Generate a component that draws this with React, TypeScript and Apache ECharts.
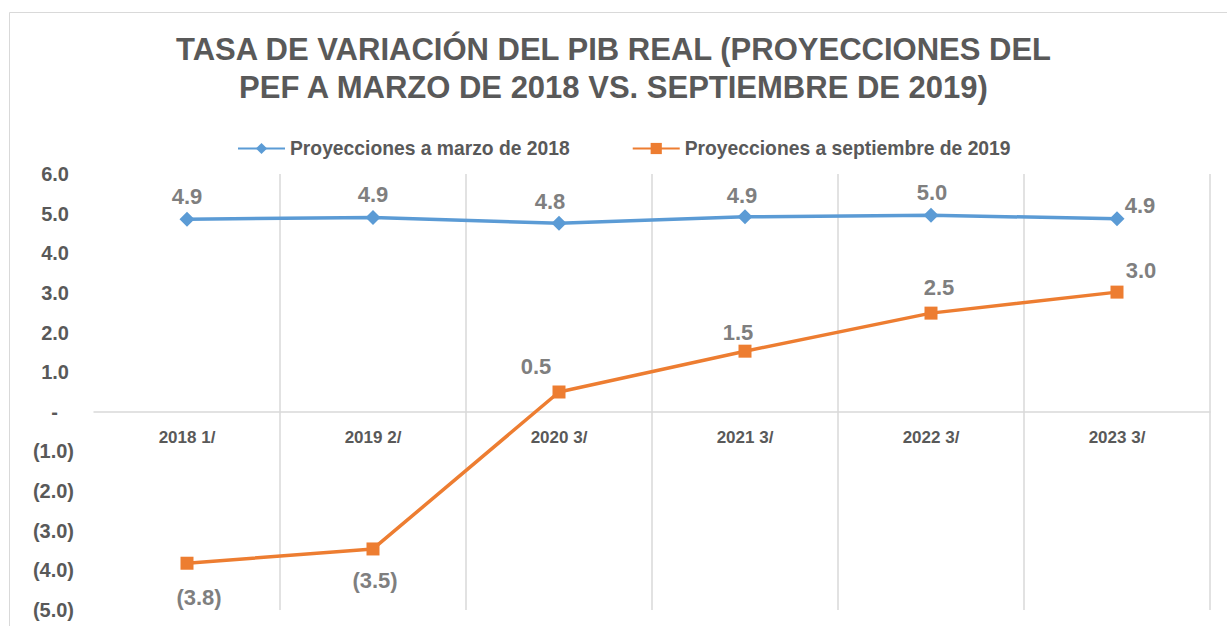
import React, { useEffect, useRef } from "react";
import * as echarts from "echarts";

const categories = ["2018 1/", "2019 2/", "2020 3/", "2021 3/", "2022 3/", "2023 3/"];
const seriesMarzo2018 = [4.86, 4.9, 4.76, 4.92, 4.96, 4.87];
const seriesSept2019 = [-3.82, -3.46, 0.5, 1.53, 2.49, 3.02];
const yTicks = { min: -5, max: 6, interval: 1 };
const titleLines = [
  "TASA DE VARIACIÓN DEL PIB REAL (PROYECCIONES DEL",
  "PEF A MARZO DE 2018 VS. SEPTIEMBRE DE 2019)",
];

const blueLabelOffsets = [[0, -23], [0, -23], [-9, -22], [-3, -21], [1, -23], [23, -13]];
const orangeLabelOffsets = [[12, 34], [2, 32], [-23, -26], [-7, -19], [8, -26], [24, -22]];

const FONT = "Liberation Sans, Arial, sans-serif";
const GRID = { left: 94, right: 17, top: 174, bottom: 16 };
const CHART_H = 626;

const fmt = (v: number) => {
  const s = Math.abs(v).toFixed(1);
  return v < 0 ? `(${s})` : s;
};

export default function App() {
  const ref = useRef<HTMLDivElement>(null);
  useEffect(() => {
    if (!ref.current) return;
    const chart = echarts.init(ref.current, null, { renderer: "svg" });
    const plotH = CHART_H - GRID.top - GRID.bottom;
    // distance from the bottom of the plot to the zero line, through the value scale
    const zeroFromBottom = ((0 - yTicks.min) / (yTicks.max - yTicks.min)) * plotH;
    const labelStyle = {
      show: true,
      position: "inside",
      color: "#7f7f7f",
      fontSize: 22,
      fontWeight: "bold",
      fontFamily: FONT,
      formatter: (p: any) => fmt(p.value),
    };
    const titleStyle = {
      fontSize: 31,
      fontWeight: "bold",
      color: "#595959",
      fontFamily: FONT,
    };
    chart.setOption({
      animation: false,
      backgroundColor: "#ffffff",
      textStyle: { fontFamily: FONT },
      graphic: [
        {
          type: "rect",
          shape: { x: 9.5, y: 12.5, width: 1240, height: 640 },
          style: { fill: "none", stroke: "#d9d9d9", lineWidth: 1 },
          silent: true,
        },
      ],
      title: [
        { text: titleLines[0], left: "center", top: 34, padding: 0, textStyle: titleStyle },
        { text: titleLines[1], left: "center", top: 72, padding: 0, textStyle: titleStyle },
      ],
      legend: {
        top: 134,
        left: 232,
        itemWidth: 47,
        itemHeight: 14,
        itemGap: 62,
        textStyle: { fontSize: 19.3, fontWeight: "bold", color: "#595959" },
        data: ["Proyecciones a marzo de 2018", "Proyecciones a septiembre de 2019"],
      },
      grid: { ...GRID, outerBoundsMode: "none", containLabel: false },
      xAxis: [
        {
          type: "category",
          data: categories,
          boundaryGap: true,
          axisLine: { onZero: true, lineStyle: { color: "#d9d9d9", width: 1.5 } },
          axisTick: { show: false },
          axisLabel: { show: false },
          splitLine: {
            show: true,
            showMinLine: false,
            lineStyle: { color: "#d9d9d9", width: 1.5 },
          },
        },
        {
          type: "category",
          data: categories,
          boundaryGap: true,
          position: "bottom",
          offset: -zeroFromBottom,
          axisLine: { show: false, onZero: false },
          axisTick: { show: false },
          splitLine: { show: false },
          axisLabel: {
            color: "#595959",
            fontSize: 17,
            fontWeight: "bold",
            margin: 17,
          },
        },
      ],
      yAxis: {
        type: "value",
        min: yTicks.min,
        max: yTicks.max,
        interval: yTicks.interval,
        axisLine: { show: false },
        axisTick: { show: false },
        splitLine: { show: false },
        axisLabel: {
          margin: 20,
          formatter: (v: number) => {
            if (Math.abs(v) < 1e-9) return "{z|-}";
            if (v < 0) return `{n|${fmt(v)}}`;
            return `{p|${fmt(v)}}`;
          },
          rich: {
            p: { fontSize: 20, fontWeight: "bold", color: "#595959", padding: [0, 5, 0, 0] },
            n: { fontSize: 20, fontWeight: "bold", color: "#595959" },
            z: { fontSize: 20, fontWeight: "bold", color: "#595959", padding: [0, 16, 0, 0] },
          },
        },
      },
      series: [
        {
          name: "Proyecciones a marzo de 2018",
          type: "line",
          xAxisIndex: 0,
          data: seriesMarzo2018.map((v, i) => ({
            value: v,
            label: { offset: blueLabelOffsets[i] },
          })),
          color: "#5b9bd5",
          lineStyle: { width: 3.5, color: "#5b9bd5" },
          symbol: "diamond",
          symbolSize: 15,
          itemStyle: { color: "#5b9bd5" },
          label: labelStyle,
          z: 3,
        },
        {
          name: "Proyecciones a septiembre de 2019",
          type: "line",
          xAxisIndex: 0,
          data: seriesSept2019.map((v, i) => ({
            value: v,
            label: { offset: orangeLabelOffsets[i] },
          })),
          color: "#ed7d31",
          lineStyle: { width: 3.5, color: "#ed7d31" },
          symbol: "rect",
          symbolSize: 13,
          itemStyle: { color: "#ed7d31" },
          label: labelStyle,
          z: 4,
        },
      ],
    });
    return () => chart.dispose();
  }, []);
  return (
    <div
      ref={ref}
      style={{ position: "absolute", left: 0, top: 0, width: 1227, height: 626 }}
    />
  );
}
